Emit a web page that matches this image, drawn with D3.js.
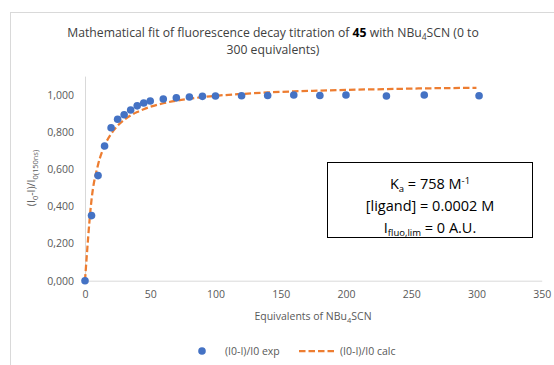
<!DOCTYPE html>
<html>
<head>
<meta charset="utf-8">
<script src="https://cdn.jsdelivr.net/npm/d3@7/dist/d3.min.js"></script>
<style>
  html, body { margin: 0; padding: 0; background: #fff; }
  svg { display: block; font-family: "Open Sans", "Noto Sans", sans-serif; }
</style>
</head>
<body>
<svg id="chart" width="554" height="365"></svg>
<script>
// ---- data ----
const expX = [0, 5, 10, 15, 20, 25, 30, 35, 40, 45, 50, 60, 70, 80, 90, 100, 120, 140, 160, 180, 200, 231, 260, 302];
const expY = [0, 0.350, 0.565, 0.724, 0.822, 0.868, 0.892, 0.918, 0.940, 0.955, 0.966, 0.977, 0.983, 0.988, 0.991, 0.993, 0.994, 0.996, 0.998, 0.996, 0.998, 0.993, 0.998, 0.994];
const calcX = [0, 5, 10, 15, 20, 25, 30, 35, 40, 45, 50, 60, 70, 80, 90, 100, 120, 140, 160, 180, 200, 230, 260, 300];
const calcY = [0, 0.435, 0.623, 0.726, 0.789, 0.833, 0.865, 0.889, 0.907, 0.922, 0.935, 0.954, 0.968, 0.978, 0.987, 0.994, 1.004, 1.012, 1.018, 1.022, 1.026, 1.030, 1.034, 1.037];
const xTicks = [0, 50, 100, 150, 200, 250, 300, 350];
const yTicks = [0, 0.2, 0.4, 0.6, 0.8, 1.0];
const seriesNames = ["(I0-I)/I0 exp", "(I0-I)/I0 calc"];
const annotation = ["758", "0.0002", "0"];

const svg = d3.select("#chart");
const blue = "#4472C4", orange = "#ED7D31", grid = "#d9d9d9", txt = "#595959";

// chart border
svg.append("rect").attr("x", 10.5).attr("y", 12.5).attr("width", 560).attr("height", 370)
  .attr("fill", "#fff").attr("stroke", grid);

const x = d3.scaleLinear().domain([0, 350]).range([85, 541.7]);
const y = d3.scaleLinear().domain([0, 1.1]).range([280.7, 76.1]);

// title
const title = svg.append("text").attr("text-anchor", "middle").attr("fill", "#404040")
  .attr("font-size", 12.2);
const t1 = title.append("tspan").attr("x", 273).attr("y", 37);
t1.append("tspan").text("Mathematical fit of fluorescence decay titration of ");
t1.append("tspan").attr("font-weight", "bold").attr("fill", "#000").text("45");
t1.append("tspan").text(" with NBu");
t1.append("tspan").attr("font-size", 8.5).attr("dy", 3).text("4");
t1.append("tspan").attr("dy", -3).text("SCN (0 to");
title.append("tspan").attr("x", 273).attr("y", 54).text("300 equivalents)");

// axes
const yAxis = d3.axisLeft(y).tickValues(yTicks).tickSize(0).tickPadding(11)
  .tickFormat(d => d3.format(".3f")(d).replace(".", ","));
const gy = svg.append("g").attr("transform", `translate(${x(0)},0)`).call(yAxis);
gy.select(".domain").attr("stroke", grid);
gy.selectAll("text").attr("fill", txt).attr("font-size", 10.5).attr("font-family", "Open Sans");

const xAxis = d3.axisBottom(x).tickValues(xTicks).tickSize(0).tickPadding(10);
const gx = svg.append("g").attr("transform", `translate(0,${y(0)})`).call(xAxis);
gx.select(".domain").attr("stroke", grid);
gx.selectAll("text").attr("fill", txt).attr("font-size", 10.5).attr("font-family", "Open Sans");

// axis titles
const xt = svg.append("text").attr("x", 313).attr("y", 320).attr("text-anchor", "middle")
  .attr("fill", txt).attr("font-size", 10.5);
xt.append("tspan").text("Equivalents of NBu");
xt.append("tspan").attr("font-size", 7.5).attr("dy", 2.5).text("4");
xt.append("tspan").attr("dy", -2.5).text("SCN");

const yt = svg.append("text").attr("transform", "translate(35,178) rotate(-90)")
  .attr("text-anchor", "middle").attr("fill", txt).attr("font-size", 10.5);
yt.append("tspan").text("(I");
yt.append("tspan").attr("font-size", 7.5).attr("dy", 2.5).text("0");
yt.append("tspan").attr("dy", -2.5).text("-I)/I");
yt.append("tspan").attr("font-size", 7.5).attr("dy", 2.5).text("0(150ns)");

// calc dashed line
const calcData = calcX.map((d, i) => [d, calcY[i]]);
svg.append("path").datum(calcData)
  .attr("d", d3.line().x(d => x(d[0])).y(d => y(d[1])).curve(d3.curveMonotoneX))
  .attr("fill", "none").attr("stroke", orange).attr("stroke-width", 2.25)
  .attr("stroke-dasharray", "6.5,3");

// experimental points
svg.append("g").selectAll("circle").data(expX.map((d, i) => [d, expY[i]])).join("circle")
  .attr("cx", d => x(d[0])).attr("cy", d => y(d[1])).attr("r", 3.8).attr("fill", blue);

// annotation box
svg.append("rect").attr("x", 327.5).attr("y", 162.5).attr("width", 205).attr("height", 75)
  .attr("fill", "#fff").attr("stroke", "#000").attr("stroke-width", 1);
const ax = 430;
const fs = 14.5;
const a1 = svg.append("text").attr("x", ax).attr("y", 189).attr("text-anchor", "middle")
  .attr("fill", "#000").attr("font-size", fs);
a1.append("tspan").text("K");
a1.append("tspan").attr("font-size", 9.5).attr("dy", 3).text("a");
a1.append("tspan").attr("dy", -3).text(` = ${annotation[0]} M`);
a1.append("tspan").attr("font-size", 9.5).attr("dy", -5).text("-1");
svg.append("text").attr("x", ax).attr("y", 211).attr("text-anchor", "middle")
  .attr("fill", "#000").attr("font-size", fs).text(`[ligand] = ${annotation[1]} M`);
const a3 = svg.append("text").attr("x", ax).attr("y", 233).attr("text-anchor", "middle")
  .attr("fill", "#000").attr("font-size", fs);
a3.append("tspan").text("I");
a3.append("tspan").attr("font-size", 9.5).attr("dy", 3).text("fluo,lim");
a3.append("tspan").attr("dy", -3).text(` = ${annotation[2]} A.U.`);

// legend
const ly = 351;
svg.append("circle").attr("cx", 202).attr("cy", ly).attr("r", 3.8).attr("fill", blue);
svg.append("text").attr("x", 225).attr("y", ly + 3.8).attr("fill", txt).attr("font-size", 10.5)
  .text(seriesNames[0]);
svg.append("line").attr("x1", 299).attr("x2", 336).attr("y1", ly).attr("y2", ly)
  .attr("stroke", orange).attr("stroke-width", 2.25).attr("stroke-dasharray", "6.5,3");
svg.append("text").attr("x", 340).attr("y", ly + 3.8).attr("fill", txt).attr("font-size", 10.5)
  .text(seriesNames[1]);
</script>
</body>
</html>
